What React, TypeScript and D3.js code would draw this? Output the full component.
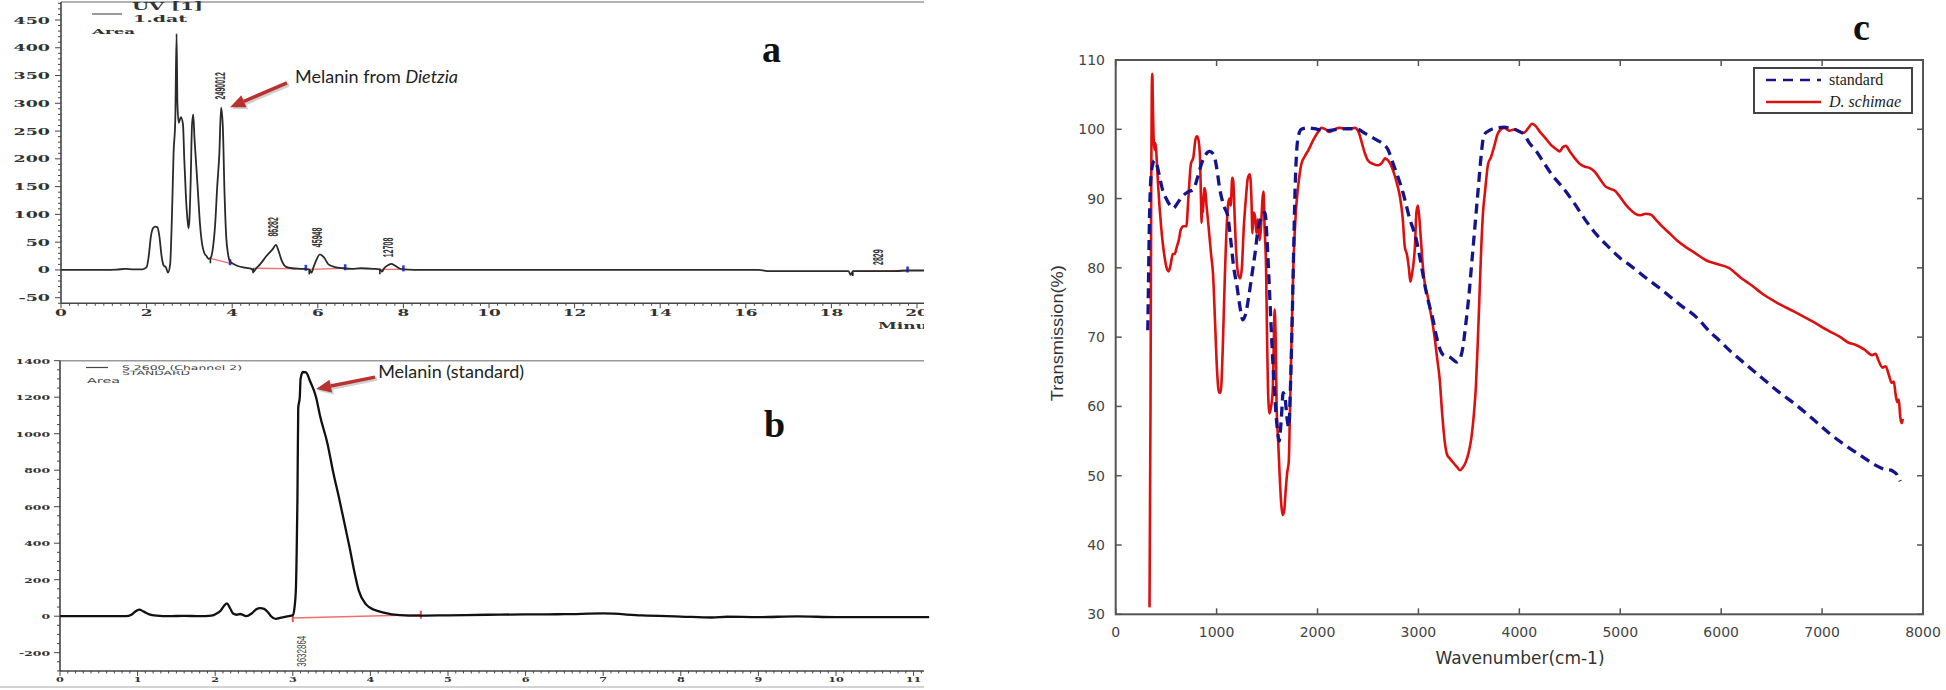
import React from "react";
import * as d3 from "d3";

// ---------- panel a : HPLC trace of melanin from Dietzia (UV [1], 1.dat)
const dietziaTrace: [number, number][] = [
  [0, 0], [0.5, 0], [1.0, 0], [1.3, 0.5], [1.5, 2], [1.7, 1], [1.9, 1], [2.0, 5],
  [2.05, 25], [2.1, 60], [2.15, 75], [2.2, 78], [2.25, 77], [2.3, 60], [2.35, 25],
  [2.4, 8], [2.45, 5], [2.5, -5], [2.55, 10], [2.6, 120], [2.63, 210], [2.67, 270],
  [2.7, 425], [2.72, 300], [2.75, 265], [2.8, 275], [2.85, 262], [2.88, 200],
  [2.92, 130], [2.95, 95], [2.98, 75], [3.0, 90], [3.03, 160], [3.06, 260],
  [3.09, 280], [3.12, 235], [3.15, 200], [3.2, 140], [3.25, 80], [3.3, 45],
  [3.35, 30], [3.4, 25], [3.45, 20], [3.5, 22], [3.55, 40], [3.6, 80], [3.65, 150],
  [3.7, 210], [3.74, 292], [3.78, 260], [3.82, 140], [3.86, 60], [3.9, 30],
  [3.95, 15], [4.0, 12], [4.1, 8], [4.3, 4], [4.45, 2], [4.5, -3], [4.55, 2],
  [4.65, 10], [4.8, 25], [4.95, 38], [5.02, 45], [5.08, 35], [5.15, 18], [5.25, 6],
  [5.4, 3], [5.6, 2], [5.8, 1], [5.85, -5], [5.9, 5], [5.95, 15], [6.05, 28],
  [6.15, 22], [6.25, 10], [6.4, 5], [6.6, 3], [6.8, 2], [7.0, 3], [7.3, 2],
  [7.45, 1], [7.5, -3], [7.55, 3], [7.65, 9], [7.72, 11], [7.8, 8], [7.9, 3],
  [8.0, 1], [8.5, 0], [9, 0], [10, 0], [12, 0], [14, 0], [16.3, 0], [16.5, -2],
  [18.4, -2], [18.45, -9], [18.5, -2], [19.5, -2], [19.8, -1], [20.2, -1],
];
// integration baselines: [startTime, startValue, endTime, endValue]
const dietziaBaselines: [number, number, number, number][] = [
  [3.49, 21, 3.95, 12], [4.49, 3, 5.72, 2], [5.8, 1, 6.64, 3], [7.45, 1, 8.0, 1],
  [18.5, -2, 19.78, -1],
];
const dietziaPeakAreas = ["2490012", "86282", "45948", "12708", "2829"];
const dietziaPeakLabelAt: [number, number][] = [
  [3.71, 307], [4.96, 60], [5.99, 41], [7.63, 23], [19.09, 9],
];
const aYTicks = [-50, 0, 50, 100, 150, 200, 250, 300, 350, 400, 450];
const aXTicks = [0, 2, 4, 6, 8, 10, 12, 14, 16, 18, 20];

// ---------- panel b : HPLC trace of melanin standard (S 2600, Channel 2)
const standardTrace: [number, number][] = [
  [0, 0], [0.5, 0], [0.85, 0], [0.92, 8], [0.96, 22], [1.02, 36], [1.08, 25],
  [1.15, 10], [1.25, 3], [1.4, 0], [1.6, 2], [1.8, 0], [1.95, 3], [2.02, 15],
  [2.07, 30], [2.11, 55], [2.15, 70], [2.19, 45], [2.23, 15], [2.28, 8], [2.32, 12],
  [2.4, 0], [2.47, 15], [2.53, 38], [2.58, 44], [2.63, 40], [2.68, 22], [2.72, 0],
  [2.78, -15], [2.85, -8], [2.95, 0], [3.0, 5], [3.02, 40], [3.04, 150], [3.05, 350],
  [3.06, 650], [3.07, 1140], [3.09, 1200], [3.1, 1300], [3.13, 1338], [3.17, 1336],
  [3.22, 1290], [3.3, 1200], [3.35, 1100], [3.45, 940], [3.52, 790], [3.6, 640],
  [3.68, 480], [3.73, 380], [3.8, 230], [3.85, 140], [3.95, 62], [4.05, 35],
  [4.17, 20], [4.38, 6], [4.6, 3], [5.0, 5], [5.5, 8], [6.0, 10], [6.5, 11],
  [7.0, 15], [7.5, 4], [8.0, -2], [8.4, -7], [8.6, -3], [9.0, -5], [9.5, -1],
  [10.0, -5], [10.5, -5], [11.2, -5],
];
const standardBaseline: [number, number, number, number] = [3.0, -10, 4.65, 8];
const standardPeakArea = "3632864";
const standardPeakLabelAt: [number, number] = [3.11, -277];
const bYTicks = [-200, 0, 200, 400, 600, 800, 1000, 1200, 1400];
const bXTicks = [0, 1, 2, 3, 4, 5, 6, 7, 8, 9, 10, 11];

// ---------- panel c : FTIR spectra
const standardSpectrum: [number, number][] = [
  [318, 71], [324, 77], [332, 85], [342, 91], [360, 94.5], [385, 95.5], [405, 95],
  [430, 93.5], [460, 91.5], [500, 90], [540, 89], [570, 88.6], [610, 89.3],
  [660, 90.3], [720, 91], [770, 91.3], [810, 93], [850, 95], [890, 96.3], [930, 96.8],
  [970, 96.4], [1000, 94.5], [1030, 91.5], [1070, 89], [1110, 87.5], [1140, 84],
  [1170, 80], [1200, 77.5], [1230, 74.5], [1260, 72.5], [1290, 73.5], [1320, 76],
  [1350, 79], [1380, 82], [1410, 85.5], [1450, 87.5], [1480, 88], [1500, 84],
  [1520, 78], [1545, 70], [1570, 63], [1600, 57], [1620, 55], [1640, 58],
  [1660, 62], [1680, 61], [1700, 58], [1715, 57], [1730, 62], [1745, 70],
  [1760, 80], [1775, 90], [1790, 96], [1810, 99], [1840, 100], [1900, 100.2],
  [2000, 100], [2100, 99.8], [2200, 100], [2300, 100.1], [2400, 100], [2460, 99.5],
  [2520, 99], [2580, 98.5], [2640, 98], [2700, 97], [2750, 95], [2800, 93],
  [2848, 90.8], [2880, 89], [2915, 87], [2950, 85.5], [2980, 84], [3013, 81.6],
  [3045, 79], [3080, 76.3], [3110, 74.5], [3145, 72.5], [3180, 70], [3220, 68],
  [3260, 67.3], [3300, 67.2], [3340, 66.8], [3380, 66.4], [3410, 66.8],
  [3440, 68.5], [3470, 72], [3500, 76], [3530, 81], [3560, 86], [3590, 91],
  [3620, 96], [3650, 99.2], [3700, 99.8], [3770, 100.2], [3850, 100.3],
  [3900, 100.2], [3950, 100], [4000, 99.7], [4050, 99.2], [4100, 98], [4160, 97],
  [4250, 95], [4330, 93.3], [4424, 91.7], [4550, 89.2], [4650, 87], [4754, 85],
  [4900, 82.8], [5000, 81.4], [5085, 80.5], [5250, 78.6], [5415, 76.8],
  [5580, 74.8], [5745, 73], [5900, 70.6], [5976, 69.6], [6075, 68.2], [6250, 66],
  [6405, 64.1], [6570, 62.1], [6735, 60.3], [6900, 58.3], [7065, 56.2],
  [7230, 54.4], [7395, 52.8], [7520, 51.6], [7626, 50.9], [7680, 50.8],
  [7708, 50.6], [7740, 50.2], [7774, 49.2],
];
const schimaeSpectrum: [number, number][] = [
  [335, 31], [345, 60], [352, 92], [358, 106], [363, 108], [368, 104], [375, 99],
  [385, 97], [395, 98], [405, 96], [420, 92], [450, 86], [480, 82], [505, 80],
  [525, 79.5], [545, 80.5], [565, 82], [585, 82], [605, 83], [625, 84],
  [645, 85.5], [670, 86], [700, 86], [720, 90], [745, 95], [770, 96], [790, 98.5],
  [805, 99], [820, 98.5], [835, 96], [845, 90], [852, 86.5], [858, 90], [866, 88],
  [875, 91.5], [885, 91.5], [900, 89], [920, 86], [945, 82], [965, 79], [985, 72],
  [1005, 65], [1025, 62], [1040, 62], [1060, 68], [1080, 78], [1100, 86],
  [1125, 90], [1140, 89], [1155, 93], [1165, 92.5], [1180, 87], [1195, 82],
  [1215, 79], [1235, 78.5], [1250, 80], [1270, 86], [1290, 90], [1310, 93],
  [1330, 93.5], [1345, 90], [1355, 85], [1365, 88], [1380, 87.5], [1395, 85],
  [1410, 87], [1425, 84], [1440, 86], [1455, 90], [1465, 91], [1475, 86],
  [1490, 80], [1500, 70], [1510, 62], [1525, 59], [1540, 60], [1555, 62],
  [1565, 68], [1575, 74], [1585, 70], [1595, 60], [1610, 55], [1625, 50],
  [1640, 46], [1655, 44.3], [1670, 45], [1685, 48], [1700, 50.5], [1715, 52],
  [1725, 58], [1740, 68], [1760, 80], [1785, 88], [1810, 92], [1840, 95],
  [1870, 96], [1910, 97], [1960, 98.5], [2000, 99.5], [2040, 100.2], [2080, 100],
  [2120, 99.6], [2170, 100], [2220, 100.2], [2300, 100], [2370, 100.2],
  [2410, 99.5], [2440, 98], [2470, 96.5], [2500, 95.5], [2550, 95], [2600, 94.8],
  [2640, 95.2], [2670, 95.8], [2700, 95.5], [2750, 94], [2790, 92], [2820, 90],
  [2845, 87], [2865, 83], [2885, 82], [2905, 80], [2920, 78], [2935, 79],
  [2950, 80.5], [2965, 83], [2980, 88], [2995, 89], [3010, 87], [3025, 84],
  [3045, 80], [3065, 77.5], [3090, 76], [3115, 74], [3140, 72], [3160, 70],
  [3185, 67], [3210, 64], [3235, 59], [3260, 55], [3285, 53], [3310, 52.5],
  [3350, 51.8], [3380, 51.3], [3410, 50.8], [3440, 51.2], [3470, 52], [3500, 53.5],
  [3525, 55.5], [3550, 59], [3570, 63], [3590, 70], [3605, 76], [3620, 82],
  [3640, 88], [3660, 91], [3690, 95], [3720, 96], [3750, 97.5], [3790, 99.5],
  [3850, 100.2], [3900, 99.8], [3960, 100], [4000, 99.6], [4045, 99.5],
  [4090, 100.2], [4125, 100.8], [4160, 100.5], [4200, 99.7], [4260, 98.7],
  [4310, 97.8], [4360, 97.2], [4400, 96.8], [4430, 97.4], [4460, 97.6],
  [4500, 96.8], [4550, 95.8], [4600, 95], [4650, 94.6], [4700, 94.4], [4750, 93.8],
  [4800, 92.8], [4850, 91.8], [4900, 91.4], [4950, 91.1], [5000, 90.2],
  [5050, 89.2], [5100, 88.4], [5150, 87.8], [5200, 87.6], [5250, 87.8],
  [5300, 87.7], [5350, 87], [5400, 86.2], [5480, 85.1], [5560, 84], [5650, 83],
  [5745, 82.1], [5850, 81.1], [5950, 80.6], [6075, 80], [6200, 78.5], [6300, 77.5],
  [6405, 76.3], [6550, 75], [6735, 73.6], [6900, 72.3], [7065, 70.9], [7170, 70.1],
  [7263, 69.2], [7330, 68.9], [7420, 68.2], [7495, 67.4], [7530, 67.6],
  [7560, 66.6], [7600, 65.6], [7630, 65.8], [7660, 64.6], [7690, 63.4],
  [7710, 63.6], [7730, 61.6], [7745, 60.6], [7760, 61.0], [7775, 58.4],
  [7790, 57.6], [7800, 58.2],
];
const cXTicks = [0, 1000, 2000, 3000, 4000, 5000, 6000, 7000, 8000];
const cYTicks = [30, 40, 50, 60, 70, 80, 90, 100, 110];
const cLegend = ["standard", "D. schimae"];

const ARROW = "#b83232";
const AXIS = "#444";

function Arrow({ x0, y0, x1, y1 }: { x0: number; y0: number; x1: number; y1: number }) {
  const a = Math.atan2(y1 - y0, x1 - x0);
  const L = 15, w = 6.5;
  const bx = x1 - L * Math.cos(a), by = y1 - L * Math.sin(a);
  const nx = -Math.sin(a) * w, ny = Math.cos(a) * w;
  const head = `${x1},${y1} ${bx + nx},${by + ny} ${bx - nx},${by - ny}`;
  return (
    <g>
      <g transform="translate(2,2)" opacity={0.18}>
        <line x1={x0} y1={y0} x2={bx} y2={by} stroke="#000" strokeWidth={3.5} />
        <polygon points={head} fill="#000" />
      </g>
      <line x1={x0} y1={y0} x2={bx} y2={by} stroke={ARROW} strokeWidth={3.5} />
      <polygon points={head} fill={ARROW} />
    </g>
  );
}

// wide, short tick-label text as in the scanned chromatograms
function WideText(props: { x: number; y: number; anchor: string; size: number; sx: number; children: React.ReactNode }) {
  return (
    <text
      transform={`translate(${props.x},${props.y}) scale(${props.sx},1)`}
      textAnchor={props.anchor}
      dominantBaseline="central"
      fontFamily="DejaVu Serif"
      fontWeight="bold"
      fontSize={props.size}
      fill="#333"
    >
      {props.children}
    </text>
  );
}

function PanelA() {
  const x = d3.scaleLinear().domain([0, 20]).range([61, 917]);
  const y = d3.scaleLinear().domain([-50, 450]).range([297.7, 20]);
  const yBot = y(-60), yTop = 2;
  const line = d3.line<[number, number]>().x((d) => x(d[0])).y((d) => y(d[1])).curve(d3.curveMonotoneX);
  const minorX = d3.range(0, 20.3, 0.2);
  const minorY = d3.range(-60, 481, 10);
  return (
    <g clipPath="url(#clipA)">
      <line x1={61} x2={924} y1={yTop} y2={yTop} stroke="#999" strokeWidth={1.5} />
      {/* legend */}
      <line x1={92} x2={122} y1={14} y2={14} stroke="#555" strokeWidth={1.2} />
      <text x={132} y={10} fontFamily="DejaVu Serif" fontWeight="bold" fontSize={11} textLength={71} lengthAdjust="spacingAndGlyphs" fill="#333">UV [1]</text>
      <text x={133} y={22} fontFamily="DejaVu Serif" fontWeight="bold" fontSize={9} textLength={54} lengthAdjust="spacingAndGlyphs" fill="#333">1.dat</text>
      <text x={92} y={34} fontFamily="DejaVu Serif" fontWeight="bold" fontSize={8} textLength={43} lengthAdjust="spacingAndGlyphs" fill="#333">Area</text>
      {/* axes */}
      <line x1={61} x2={61} y1={yTop} y2={yBot} stroke={AXIS} strokeWidth={1.6} />
      <line x1={61} x2={924} y1={yBot} y2={yBot} stroke={AXIS} strokeWidth={1.6} />
      {minorY.map((v) => (
        <line key={"my" + v} x1={61} x2={v % 50 === 0 ? 55 : 58} y1={y(v)} y2={y(v)} stroke={AXIS} strokeWidth={1} />
      ))}
      {minorX.map((t, i) => (
        <line key={"mx" + i} x1={x(t)} x2={x(t)} y1={yBot} y2={yBot + (i % 10 === 0 ? 5 : 2.5)} stroke={AXIS} strokeWidth={1} />
      ))}
      {aYTicks.map((v) => (
        <WideText key={"yl" + v} x={50} y={y(v)} anchor="end" size={10} sx={1.75}>{v}</WideText>
      ))}
      {aXTicks.map((t) => (
        <WideText key={"xl" + t} x={x(t)} y={312} anchor="middle" size={10} sx={1.7}>{t}</WideText>
      ))}
      <WideText x={878} y={325} anchor="start" size={10} sx={1.7}>Minutes</WideText>
      {/* baselines and integration marks */}
      {dietziaBaselines.map((b, i) => (
        <g key={"bl" + i}>
          <line x1={x(b[0])} x2={x(b[2])} y1={y(b[1])} y2={y(b[3])} stroke="#f07070" strokeWidth={1.3} />
          <line x1={x(b[0])} x2={x(b[0])} y1={y(b[1])} y2={y(b[1]) + 5} stroke="#222" strokeWidth={1.6} />
          <rect x={x(b[2]) - 1.3} y={y(b[3]) - 4} width={2.6} height={6} fill="#2a3cf0" />
        </g>
      ))}
      <path d={line(dietziaTrace) ?? ""} fill="none" stroke="#2a2a2a" strokeWidth={1.8} />
      {dietziaPeakAreas.map((s, i) => (
        <text
          key={s}
          transform={`translate(${x(dietziaPeakLabelAt[i][0])},${y(dietziaPeakLabelAt[i][1])}) rotate(-90)`}
          dominantBaseline="central"
          fontFamily="Liberation Sans"
          fontSize={14}
          fontWeight="bold"
          fill="#333"
          textLength={s.length * 3.9}
          lengthAdjust="spacingAndGlyphs"
        >
          {s}
        </text>
      ))}
      <Arrow x0={x(5.28)} y0={y(336.6)} x1={x(3.95)} y1={y(293)} />
      <text x={x(5.47)} y={y(336.6)} fontFamily="Lato" fontSize={18} fill="#222">
        Melanin from <tspan fontStyle="italic">Dietzia</tspan>
      </text>
    </g>
  );
}

function PanelB() {
  const x = d3.scaleLinear().domain([0, 11]).range([60, 913.6]);
  const y = d3.scaleLinear().domain([-200, 1400]).range([652.7, 360.7]);
  const yBot = y(-300), yTop = y(1400);
  const line = d3.line<[number, number]>().x((d) => x(d[0])).y((d) => y(d[1])).curve(d3.curveMonotoneX);
  const minorX = d3.range(0, 11.15, 0.1);
  const minorY = d3.range(-300, 1401, 50);
  const b = standardBaseline;
  return (
    <g>
      <line x1={60} x2={924} y1={yTop} y2={yTop} stroke="#999" strokeWidth={1.5} />
      <line x1={0} x2={924} y1={687} y2={687} stroke="#c4c4c4" strokeWidth={1.5} />
      {/* legend */}
      <line x1={86} x2={108} y1={367.5} y2={367.5} stroke="#444" strokeWidth={1.2} />
      <text x={122} y={369.5} fontFamily="DejaVu Sans" fontSize={6.5} textLength={120} lengthAdjust="spacingAndGlyphs" fill="#444">S 2600 (Channel 2)</text>
      <text x={122} y={374.5} fontFamily="DejaVu Sans" fontSize={6} textLength={68} lengthAdjust="spacingAndGlyphs" fill="#444">STANDARD</text>
      <text x={87} y={382.5} fontFamily="DejaVu Sans" fontSize={7} textLength={33} lengthAdjust="spacingAndGlyphs" fill="#444">Area</text>
      {/* axes */}
      <line x1={60} x2={60} y1={yTop} y2={yBot} stroke={AXIS} strokeWidth={1.6} />
      <line x1={60} x2={924} y1={yBot} y2={yBot} stroke={AXIS} strokeWidth={1.6} />
      {minorY.map((v) => (
        <line key={"my" + v} x1={60} x2={v % 200 === 0 ? 54 : 57} y1={y(v)} y2={y(v)} stroke={AXIS} strokeWidth={1} />
      ))}
      {minorX.map((t, i) => (
        <line key={"mx" + i} x1={x(t)} x2={x(t)} y1={yBot} y2={yBot + (i % 10 === 0 ? 5 : 2.5)} stroke={AXIS} strokeWidth={1} />
      ))}
      {bYTicks.map((v) => (
        <WideText key={"yl" + v} x={50} y={y(v)} anchor="end" size={7.5} sx={1.65}>{v}</WideText>
      ))}
      {bXTicks.map((t) => (
        <WideText key={"xl" + t} x={x(t)} y={679} anchor="middle" size={7.5} sx={1.5}>{t}</WideText>
      ))}
      <line x1={x(b[0])} x2={x(b[2])} y1={y(b[1])} y2={y(b[3])} stroke="#f07070" strokeWidth={1.4} />
      <line x1={x(b[0])} x2={x(b[0])} y1={y(b[1]) - 4} y2={y(b[1]) + 4} stroke="#f05050" strokeWidth={2} />
      <line x1={x(b[2])} x2={x(b[2])} y1={y(b[3]) - 4} y2={y(b[3]) + 4} stroke="#f05050" strokeWidth={2} />
      <path d={line(standardTrace) ?? ""} fill="none" stroke="#111" strokeWidth={2.3} />
      <text
        transform={`translate(${x(standardPeakLabelAt[0])},${y(standardPeakLabelAt[1])}) rotate(-90)`}
        dominantBaseline="central"
        fontFamily="Liberation Sans"
        fontSize={13}
        fill="#444"
        textLength={31}
        lengthAdjust="spacingAndGlyphs"
      >
        {standardPeakArea}
      </text>
      <Arrow x0={x(4.06)} y0={y(1310)} x1={x(3.3)} y1={y(1245)} />
      <text x={x(4.1)} y={y(1305)} fontFamily="Lato" fontSize={18} fill="#222">Melanin (standard)</text>
    </g>
  );
}

function PanelC() {
  const x = d3.scaleLinear().domain([0, 8000]).range([1115.7, 1923]);
  const y = d3.scaleLinear().domain([30, 110]).range([614.3, 60]);
  const [x0, x1] = x.range();
  const [y0, y1] = y.range();
  const line = d3.line<[number, number]>().x((d) => x(d[0])).y((d) => y(d[1])).curve(d3.curveMonotoneX);
  const tk = 6;
  return (
    <g>
      <rect x={x0} y={y1} width={x1 - x0} height={y0 - y1} fill="none" stroke="#555" strokeWidth={2} />
      {cXTicks.map((t) => (
        <g key={"xt" + t}>
          <line x1={x(t)} x2={x(t)} y1={y0} y2={y0 - tk} stroke="#555" strokeWidth={1.5} />
          <line x1={x(t)} x2={x(t)} y1={y1} y2={y1 + tk} stroke="#555" strokeWidth={1.5} />
          <text x={x(t)} y={632} textAnchor="middle" dominantBaseline="central" fontFamily="DejaVu Sans" fontSize={14} fill="#444">{t}</text>
        </g>
      ))}
      {cYTicks.map((v) => (
        <g key={"yt" + v}>
          <line x1={x0} x2={x0 + tk} y1={y(v)} y2={y(v)} stroke="#555" strokeWidth={1.5} />
          <line x1={x1} x2={x1 - tk} y1={y(v)} y2={y(v)} stroke="#555" strokeWidth={1.5} />
          <text x={1105} y={y(v)} textAnchor="end" dominantBaseline="central" fontFamily="DejaVu Sans" fontSize={14} fill="#444">{v}</text>
        </g>
      ))}
      <text x={1520} y={664} textAnchor="middle" fontFamily="DejaVu Sans" fontSize={17} fill="#333">Wavenumber(cm-1)</text>
      <text
        transform={`translate(1063,${(y0 + y1) / 2 - 4}) rotate(-90)`}
        textAnchor="middle"
        fontFamily="Liberation Sans"
        fontSize={17}
        fill="#333"
        textLength={136}
        lengthAdjust="spacingAndGlyphs"
      >
        Transmission(%)
      </text>
      <path d={line(schimaeSpectrum) ?? ""} fill="none" stroke="#dd1010" strokeWidth={2.6} />
      <path d={line(standardSpectrum) ?? ""} fill="none" stroke="#14148c" strokeWidth={3.3} strokeDasharray="10 6" />
      {/* legend */}
      <rect x={1754} y={68} width={158} height={45} fill="#fff" stroke="#444" strokeWidth={2} />
      <line x1={1766} x2={1821} y1={80} y2={80} stroke="#14148c" strokeWidth={2.6} strokeDasharray="10 7" />
      <line x1={1766} x2={1821} y1={102} y2={102} stroke="#dd1010" strokeWidth={2.4} />
      <text x={1829} y={85} fontFamily="Liberation Serif" fontSize={16} fill="#222">{cLegend[0]}</text>
      <text x={1829} y={107} fontFamily="Liberation Serif" fontStyle="italic" fontSize={16} fill="#222">{cLegend[1]}</text>
    </g>
  );
}

export default function App() {
  return (
    <svg
      width={1946}
      height={690}
      viewBox="0 0 1946 690"
      style={{ position: "absolute", left: 0, top: 0, background: "#fff" }}
    >
      <defs>
        <clipPath id="clipA">
          <rect x={0} y={0} width={924} height={340} />
        </clipPath>
      </defs>
      <rect width={1946} height={690} fill="#fff" />
      <PanelA />
      <PanelB />
      <PanelC />
      <text x={762} y={62} fontFamily="Liberation Serif" fontWeight="bold" fontSize={38} fill="#111">a</text>
      <text x={764} y={437} fontFamily="Liberation Serif" fontWeight="bold" fontSize={38} fill="#111">b</text>
      <text x={1853} y={40} fontFamily="Liberation Serif" fontWeight="bold" fontSize={38} fill="#111">c</text>
    </svg>
  );
}
